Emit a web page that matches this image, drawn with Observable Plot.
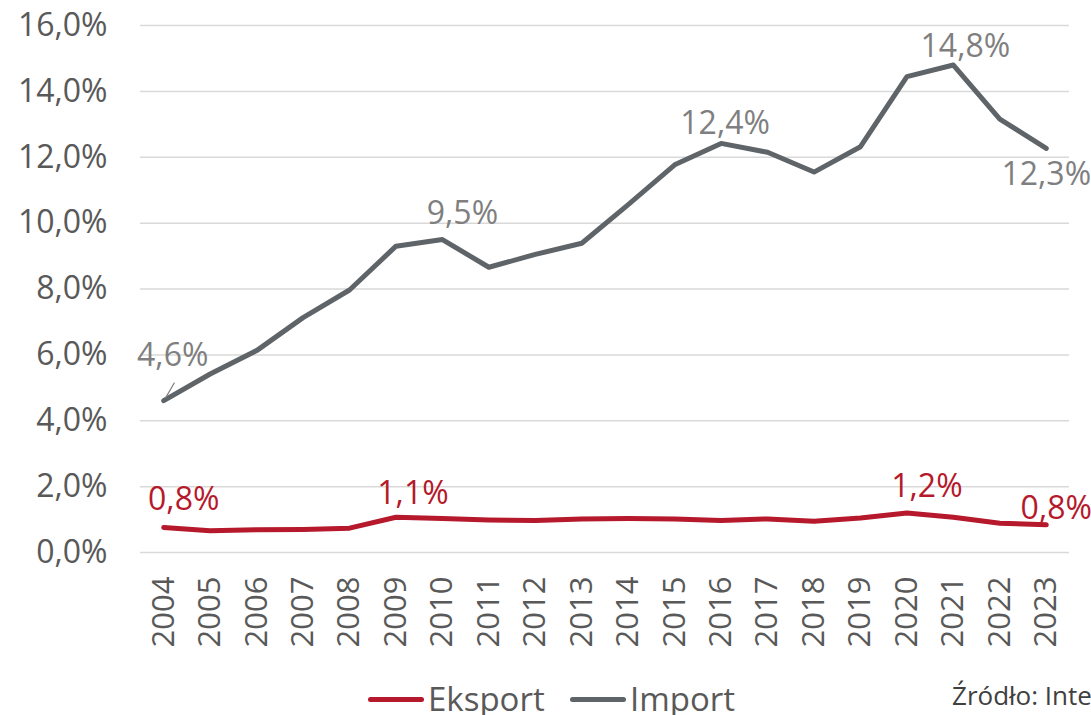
<!DOCTYPE html>
<html>
<head>
<meta charset="utf-8">
<script src="https://cdn.jsdelivr.net/npm/d3@7"></script>
<script src="https://cdn.jsdelivr.net/npm/@observablehq/plot@0.6"></script>
<style>
  html, body { margin: 0; padding: 0; background: #fff; overflow: hidden; width: 1091px; height: 715px; }
  #wrap { position: relative; width: 1091px; height: 715px; font-family: "Open Sans", sans-serif; overflow: hidden; }
  .item { position: absolute; top: 682px; height: 33px; line-height: 33px; display: flex; align-items: center; font-size: 33px; color: #595959; white-space: nowrap; }
  .sw { display: inline-block; width: 56px; height: 5px; border-radius: 3px; margin-right: 4px; position: relative; top: 1px; }
  #source { position: absolute; left: 952px; top: 682px; height: 26px; line-height: 26px; font-size: 26px; color: #404040; white-space: nowrap; }
</style>
</head>
<body>
<div id="wrap">
  <div id="chart"></div>
  <div class="item" style="left:368px"><span class="sw" style="background:#B5192B"></span>Eksport</div>
  <div class="item" style="left:570px"><span class="sw" style="background:#5F6468"></span>Import</div>
  <div id="source">Źródło: International Trade Centre</div>
</div>
<script>
const years = [2004, 2005, 2006, 2007, 2008, 2009, 2010, 2011, 2012, 2013, 2014, 2015, 2016, 2017, 2018, 2019, 2020, 2021, 2022, 2023];
const importValues = [4.61, 5.42, 6.13, 7.13, 7.97, 9.30, 9.50, 8.66, 9.05, 9.39, 10.56, 11.77, 12.42, 12.15, 11.55, 12.32, 14.45, 14.80, 13.16, 12.27];
const exportValues = [0.76, 0.66, 0.69, 0.70, 0.74, 1.07, 1.03, 0.99, 0.97, 1.02, 1.03, 1.02, 0.97, 1.02, 0.95, 1.05, 1.20, 1.07, 0.89, 0.84];
const yTicks = [0, 2, 4, 6, 8, 10, 12, 14, 16];
const importLabelYears = [2004, 2010, 2016, 2021, 2023];
const exportLabelYears = [2004, 2009, 2020, 2023];

const imp = years.map((y, i) => ({year: y, value: importValues[i]}));
const exp = years.map((y, i) => ({year: y, value: exportValues[i]}));
const fmt = v => v.toFixed(1).replace(".", ",") + "%";
const pick = (arr, ys) => arr.filter(d => ys.includes(d.year));

const IMP = "#5F6468", EXP = "#B5192B", LBL = "#7f7f7f";

function impLabel(year, dx, dy) {
  return Plot.text(pick(imp, [year]), {x: "year", y: "value", text: d => fmt(d.value), dx, dy, fill: LBL, fontSize: 32});
}
function expLabel(year, dx, dy) {
  return Plot.text(pick(exp, [year]), {x: "year", y: "value", text: d => fmt(d.value), dx, dy, fill: EXP, fontSize: 32});
}

const chart = Plot.plot({
  width: 1091,
  height: 672,
  marginLeft: 140,
  marginRight: 22,
  marginTop: 25,
  marginBottom: 120,
  style: {fontFamily: "Open Sans, sans-serif", fontSize: "31px", color: "#595959", background: "#fff", overflow: "visible"},
  x: {type: "point", domain: years, padding: 0.5, round: false, label: null},
  y: {domain: [0, 16], label: null},
  marks: [
    Plot.gridY(yTicks, {stroke: "#d9d9d9", strokeOpacity: 1, strokeWidth: 1.5}),
    Plot.axisY(yTicks, {tickSize: 0, tickPadding: 33, tickFormat: fmt, fontSize: 32, fill: "#595959", label: null}),
    Plot.axisX(years, {tickSize: 0, tickPadding: 24, tickRotate: -90, tickFormat: d => String(d), fontSize: 31, fill: "#595959", label: null}),
    Plot.line(imp, {x: "year", y: "value", stroke: IMP, strokeWidth: 5, strokeLinejoin: "round"}),
    Plot.line(exp, {x: "year", y: "value", stroke: EXP, strokeWidth: 5, strokeLinejoin: "round", strokeLinecap: "round"}),
    // import labels
    impLabel(2004, 9, -45),
    Plot.vector(pick(imp, [2004]), {x: "year", y: "value", length: 17, rotate: 30, anchor: "start", stroke: LBL, strokeWidth: 1.2, dx: 2, dy: -3,
      shape: {draw(ctx, l) { ctx.moveTo(0, 0); ctx.lineTo(0, -l); }}}),
    impLabel(2010, 20, -26),
    impLabel(2016, 4, -20),
    impLabel(2021, 12, -18),
    impLabel(2023, 0, 26),
    // export labels
    expLabel(2004, 20, -28),
    expLabel(2009, 17, -24),
    expLabel(2020, 20, -26),
    expLabel(2023, 10, -16)
  ]
});
document.getElementById("chart").appendChild(chart);
</script>
</body>
</html>
